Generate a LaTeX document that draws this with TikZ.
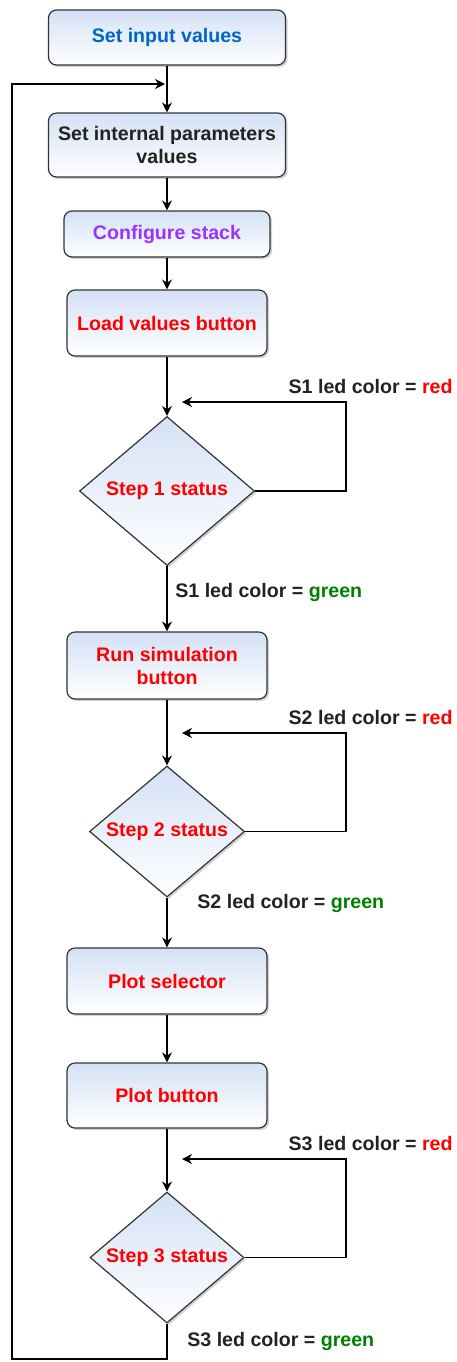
\documentclass[tikz,border=0pt]{standalone}
\usepackage{fontspec}
\setmainfont{Liberation Sans}
\usetikzlibrary{shapes.geometric, shadows, arrows.meta}
\definecolor{boxblue}{HTML}{D4E1F5}
\definecolor{edge}{HTML}{333333}
\definecolor{txtblue}{HTML}{0066CC}
\definecolor{txtpurple}{HTML}{9933FF}
\definecolor{txtred}{HTML}{FF0000}
\definecolor{txtgreen}{HTML}{008000}
\definecolor{txtdark}{HTML}{222222}

\begin{document}
\begin{tikzpicture}[x=0.5pt, y=-0.5pt,
    font=\fontsize{9.8}{11.5}\selectfont\bfseries,
    stepbox/.style={draw=edge, line width=0.6pt, rounded corners=4pt, top color=boxblue, bottom color=white,
        align=center, inner sep=2pt, drop shadow={shadow xshift=1pt, shadow yshift=-1pt, opacity=0.35}},
    check/.style={draw=edge, line width=0.6pt, diamond, aspect=1.2, inner sep=0pt, top color=boxblue, bottom color=white,
        text=txtred, drop shadow={shadow xshift=1pt, shadow yshift=-1pt, opacity=0.35}},
    flow/.style={draw=black, line width=0.75pt, -{Stealth[length=5pt, width=5pt]}},
    led/.style={text=txtdark, inner sep=0pt}]
    \useasboundingbox (0,0) rectangle (456,1362);

    % Boxes and checks
    \node[stepbox, minimum width=118.5pt, minimum height=27.5pt, text=txtblue] (input) at (167,37.5) {Set input values};
    \node[stepbox, minimum width=118.5pt, minimum height=32pt, text=txtdark] (param) at (167,145) {Set internal parameters\\values};
    \node[stepbox, minimum width=103pt, minimum height=23pt, text=txtpurple] (stack) at (167,234) {Configure stack};
    \node[stepbox, minimum width=100pt, minimum height=33pt, text=txtred] (load) at (167,323) {Load values button};
    \node[check, minimum width=87.5pt, minimum height=74.5pt] (step1) at (167,491) {Step 1 status};
    \node[stepbox, minimum width=100pt, minimum height=33.5pt, text=txtred] (run) at (167,665.5) {Run simulation\\button};
    \node[check, minimum width=77.5pt, minimum height=65.5pt] (step2) at (167,831.5) {Step 2 status};
    \node[stepbox, minimum width=100pt, minimum height=33pt, text=txtred] (select) at (167,981) {Plot selector};
    \node[stepbox, minimum width=100pt, minimum height=32.5pt, text=txtred] (plot) at (167,1095.5) {Plot button};
    \node[check, minimum width=77pt, minimum height=65.5pt] (step3) at (167,1257.5) {Step 3 status};

    % Led labels
    \node[led, anchor=east] (red1) at (453,386) {S1 led color = \textcolor{txtred}{red}};
    \node[led, anchor=west] (green1) at (175,592) {S1 led color = \textcolor{txtgreen}{green}};
    \node[led, anchor=east] (red2) at (453,717) {S2 led color = \textcolor{txtred}{red}};
    \node[led, anchor=west] (green2) at (197,903) {S2 led color = \textcolor{txtgreen}{green}};
    \node[led, anchor=east] (red3) at (453,1143) {S3 led color = \textcolor{txtred}{red}};
    \node[led, anchor=west] (green3) at (187,1341) {S3 led color = \textcolor{txtgreen}{green}};

    % Corner points
    \coordinate (back1) at (346,402);
    \coordinate (in1) at (182,402);
    \coordinate (back2) at (346,733);
    \coordinate (in2) at (182,733);
    \coordinate (back3) at (346,1159);
    \coordinate (in3) at (182,1159);
    \coordinate (join) at (167,84);
    \coordinate (low) at (12,1359);

    % Connectors
    \draw[flow] (input) -- (param);
    \draw[flow] (param) -- (stack);
    \draw[flow] (stack) -- (load);
    \draw[flow] (load) -- (step1);
    \draw[flow] (step1.east) -| (back1) -- (in1);
    \draw[flow] (step1) -- (run);
    \draw[flow] (run) -- (step2);
    \draw[flow] (step2.east) -| (back2) -- (in2);
    \draw[flow] (step2) -- (select);
    \draw[flow] (select) -- (plot);
    \draw[flow] (plot) -- (step3);
    \draw[flow] (step3.east) -| (back3) -- (in3);
    \draw[flow, shorten >=1pt] (step3.south) |- (low) |- (join);
\end{tikzpicture}
\end{document}
